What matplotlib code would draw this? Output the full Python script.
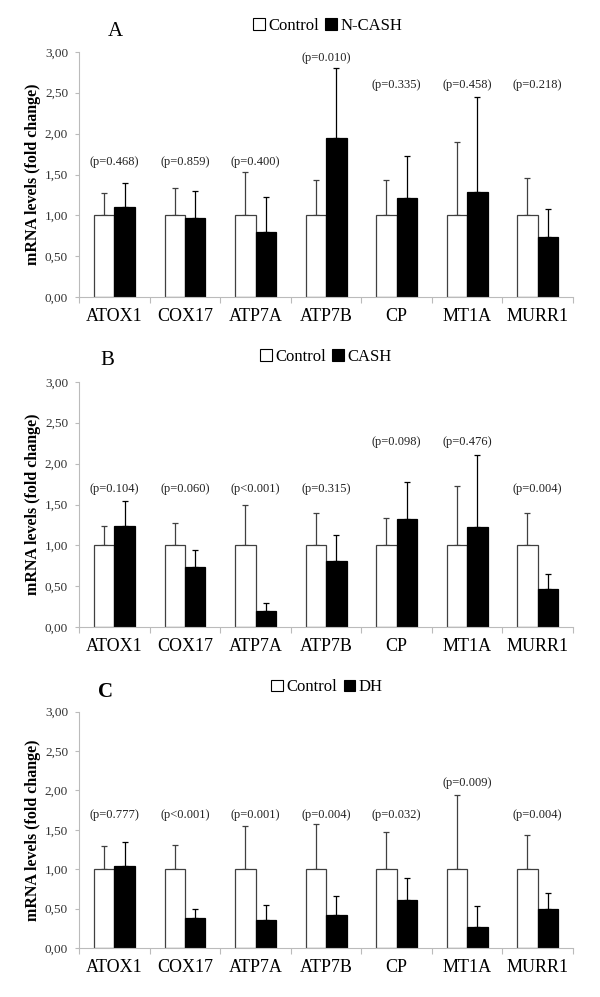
## mRNA levels of copper genes, three panels
import matplotlib
matplotlib.use("Agg")
import matplotlib.pyplot as plt
from matplotlib.patches import Patch
import numpy as np

plt.rcParams["font.family"] = "Liberation Serif"

## data
genes = ["ATOX1", "COX17", "ATP7A", "ATP7B", "CP", "MT1A", "MURR1"]

## panel A: Control vs N-CASH
ctrl_a = [1.00, 1.00, 1.00, 1.00, 1.00, 1.00, 1.00]
ctrl_err_a = [0.27, 0.33, 0.53, 0.43, 0.43, 0.90, 0.46]
trt_a = [1.10, 0.97, 0.80, 1.95, 1.21, 1.29, 0.74]
trt_err_a = [0.30, 0.33, 0.42, 0.85, 0.52, 1.16, 0.34]
p_a = ["(p=0.468)", "(p=0.859)", "(p=0.400)", "(p=0.010)", "(p=0.335)", "(p=0.458)", "(p=0.218)"]
p_y_a = [1.65, 1.65, 1.65, 2.92, 2.59, 2.59, 2.59]

## panel B: Control vs CASH
ctrl_b = [1.00, 1.00, 1.00, 1.00, 1.00, 1.00, 1.00]
ctrl_err_b = [0.24, 0.28, 0.49, 0.40, 0.33, 0.73, 0.40]
trt_b = [1.24, 0.74, 0.20, 0.81, 1.32, 1.22, 0.47]
trt_err_b = [0.30, 0.21, 0.10, 0.32, 0.45, 0.88, 0.18]
p_b = ["(p=0.104)", "(p=0.060)", "(p<0.001)", "(p=0.315)", "(p=0.098)", "(p=0.476)", "(p=0.004)"]
p_y_b = [1.69, 1.69, 1.69, 1.69, 2.27, 2.27, 1.69]

## panel C: Control vs DH
ctrl_c = [1.00, 1.00, 1.00, 1.00, 1.00, 1.00, 1.00]
ctrl_err_c = [0.30, 0.31, 0.55, 0.57, 0.47, 0.94, 0.44]
trt_c = [1.04, 0.38, 0.35, 0.42, 0.61, 0.27, 0.49]
trt_err_c = [0.31, 0.12, 0.19, 0.24, 0.28, 0.26, 0.21]
p_c = ["(p=0.777)", "(p<0.001)", "(p=0.001)", "(p=0.004)", "(p=0.032)", "(p=0.009)", "(p=0.004)"]
p_y_c = [1.69, 1.69, 1.69, 1.69, 1.69, 2.10, 1.69]

yticks = [0, 0.5, 1.0, 1.5, 2.0, 2.5, 3.0]
ytick_labels = ["0,00", "0,50", "1,00", "1,50", "2,00", "2,50", "3,00"]

panels = [
    ("A", "N-CASH", ctrl_a, ctrl_err_a, trt_a, trt_err_a, p_a, p_y_a),
    ("B", "CASH", ctrl_b, ctrl_err_b, trt_b, trt_err_b, p_b, p_y_b),
    ("C", "DH", ctrl_c, ctrl_err_c, trt_c, trt_err_c, p_c, p_y_c),
]

## layout in figure fractions (axes boxes, letter and legend spots)
boxes = [[0.132, 0.7018, 0.823, 0.2463],
         [0.132, 0.3708, 0.823, 0.2463],
         [0.132, 0.0492, 0.823, 0.2370]]
letter_pos = [(0.193, 0.968), (0.179, 0.638), (0.176, 0.306)]
legend_pos = [(0.546, 0.974), (0.543, 0.642), (0.545, 0.3106)]

fig = plt.figure(figsize=(6, 9.97), dpi=100)

x = np.arange(len(genes))
w = 0.29

for i, (letter, name, c, ce, t, te, pl, py) in enumerate(panels):
    ax = fig.add_axes(boxes[i])

    ## white control bars and black treatment bars
    ax.bar(x - w / 2, c, w, color="white", edgecolor="#404040", linewidth=0.9, zorder=2)
    ax.bar(x + w / 2, t, w, color="black", edgecolor="black", linewidth=0.9, zorder=2)
    ## only the upper half of the error bars
    ax.errorbar(x - w / 2, c, yerr=[np.zeros(len(ce)), ce], fmt="none",
                ecolor="#404040", elinewidth=0.9, capsize=2.5, capthick=0.9, zorder=1)
    ax.errorbar(x + w / 2, t, yerr=[np.zeros(len(te)), te], fmt="none",
                ecolor="black", elinewidth=0.9, capsize=2.5, capthick=0.9, zorder=1)

    ## p-values above each group
    for xi, lab, yy in zip(x, pl, py):
        ax.text(xi, yy, lab, ha="center", va="center", fontsize=9, color="#222222")

    ax.set_xlim(-0.5, len(genes) - 0.5)
    ax.set_ylim(0, 3.0)
    ax.set_yticks(yticks)
    ax.set_yticklabels(ytick_labels, fontsize=9.5, color="#333333")
    ax.set_xticks(x)
    ax.set_xticklabels(genes, fontsize=13)
    ax.set_xticks(np.arange(len(genes) + 1) - 0.5, minor=True)
    ax.tick_params(axis="x", which="major", length=0, pad=8)
    ax.tick_params(axis="x", which="minor", length=4, color="#bbbbbb", width=0.8)
    ax.tick_params(axis="y", length=3, color="#bbbbbb", width=0.8, pad=5)

    for s in ["top", "right"]:
        ax.spines[s].set_visible(False)
    ax.spines["left"].set_color("#bbbbbb")
    ax.spines["bottom"].set_color("#bbbbbb")
    ax.spines["left"].set_linewidth(0.8)
    ax.spines["bottom"].set_linewidth(0.8)

    ## y label on the left, centred on the axes
    fig.text(0.055, boxes[i][1] + boxes[i][3] / 2, "mRNA levels (fold change)",
             rotation=90, ha="center", va="center", fontsize=11.5, fontweight="bold")

    ## panel letter
    fig.text(letter_pos[i][0], letter_pos[i][1], letter, ha="center", va="center",
             fontsize=15, fontweight="bold" if letter == "C" else "normal")

    ## legend
    handles = [Patch(facecolor="white", edgecolor="black", linewidth=0.8, label="Control"),
               Patch(facecolor="black", edgecolor="black", linewidth=0.8, label=name)]
    fig.legend(handles=handles, loc="center", bbox_to_anchor=legend_pos[i], ncol=2,
               frameon=False, fontsize=12, handlelength=0.7, handleheight=0.7,
               handletextpad=0.2, columnspacing=0.4, borderpad=0)

fig.savefig("out.png", dpi=100)
